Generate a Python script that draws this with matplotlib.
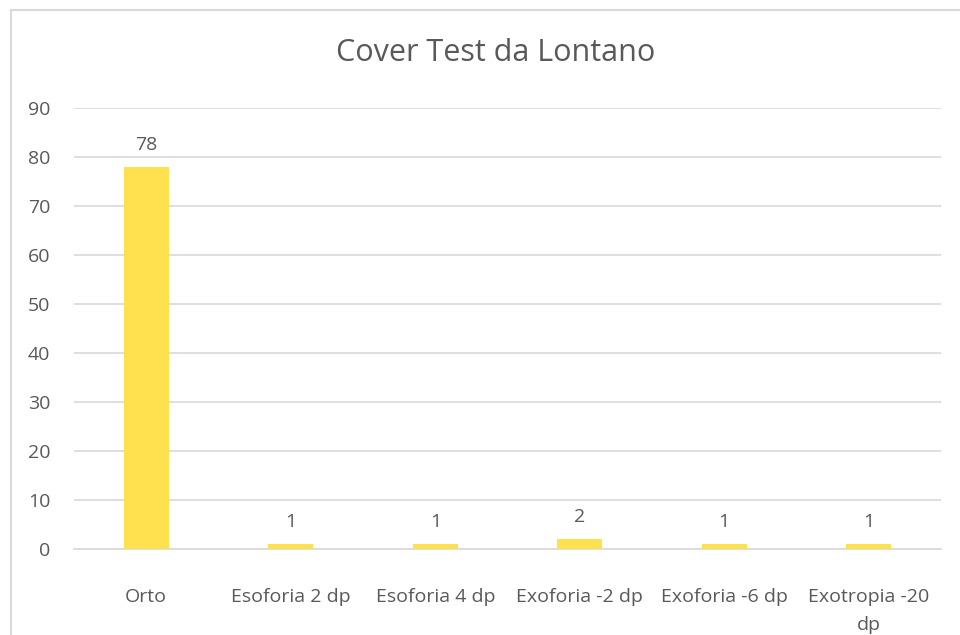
import matplotlib.pyplot as plt
from matplotlib.lines import Line2D

categories = ["Orto", "Esoforia 2 dp", "Esoforia 4 dp", "Exoforia -2 dp",
              "Exoforia -6 dp", "Exotropia -20\ndp"]
counts = [78, 1, 1, 2, 1, 1]
yticks = list(range(0, 100, 10))

text_color = "#595959"
grid_color = "#D9D9D9"
bar_color = "#FFE14F"

plt.rcParams["font.family"] = ["Open Sans", "DejaVu Sans"]

fig = plt.figure(figsize=(9.6, 6.35), dpi=100)
W, H = 960, 635
ax = fig.add_axes([74 / W, 1 - 549 / H, (941 - 74) / W, (549 - 108) / H])

x = range(len(categories))
bars = ax.bar(x, counts, width=0.31, color=bar_color, zorder=3)

for xi, v in zip(x, counts):
    ax.text(xi, v + 2.6, str(v), ha="center", va="bottom",
            fontsize=14, color=text_color)

ax.set_xlim(-0.5, len(categories) - 0.5)
ax.set_ylim(0, 90)
ax.set_yticks(yticks)
ax.set_xticks(list(x))
ax.set_xticklabels(categories, fontsize=14, color=text_color, linespacing=1.75)
ax.tick_params(axis="y", labelsize=14, labelcolor=text_color, length=0, pad=17)
ax.tick_params(axis="x", length=0, pad=28)

ax.yaxis.grid(True, color=grid_color, linewidth=1.2, zorder=0)
ax.set_axisbelow(True)
for side in ["top", "right", "left"]:
    ax.spines[side].set_visible(False)
ax.spines["bottom"].set_color(grid_color)
ax.spines["bottom"].set_linewidth(1.2)

fig.text(496 / W, 1 - 53 / H, "Cover Test da Lontano", ha="center", va="center",
         fontsize=22, color=text_color)

# outer chart border (top and left edges visible)
fig.add_artist(Line2D([10.5 / W, 10.5 / W], [0, 1 - 9.5 / H],
                      transform=fig.transFigure, color=grid_color, lw=1.5))
fig.add_artist(Line2D([10.5 / W, 1], [1 - 9.5 / H, 1 - 9.5 / H],
                      transform=fig.transFigure, color=grid_color, lw=1.5))

fig.savefig("out.png", dpi=100)
